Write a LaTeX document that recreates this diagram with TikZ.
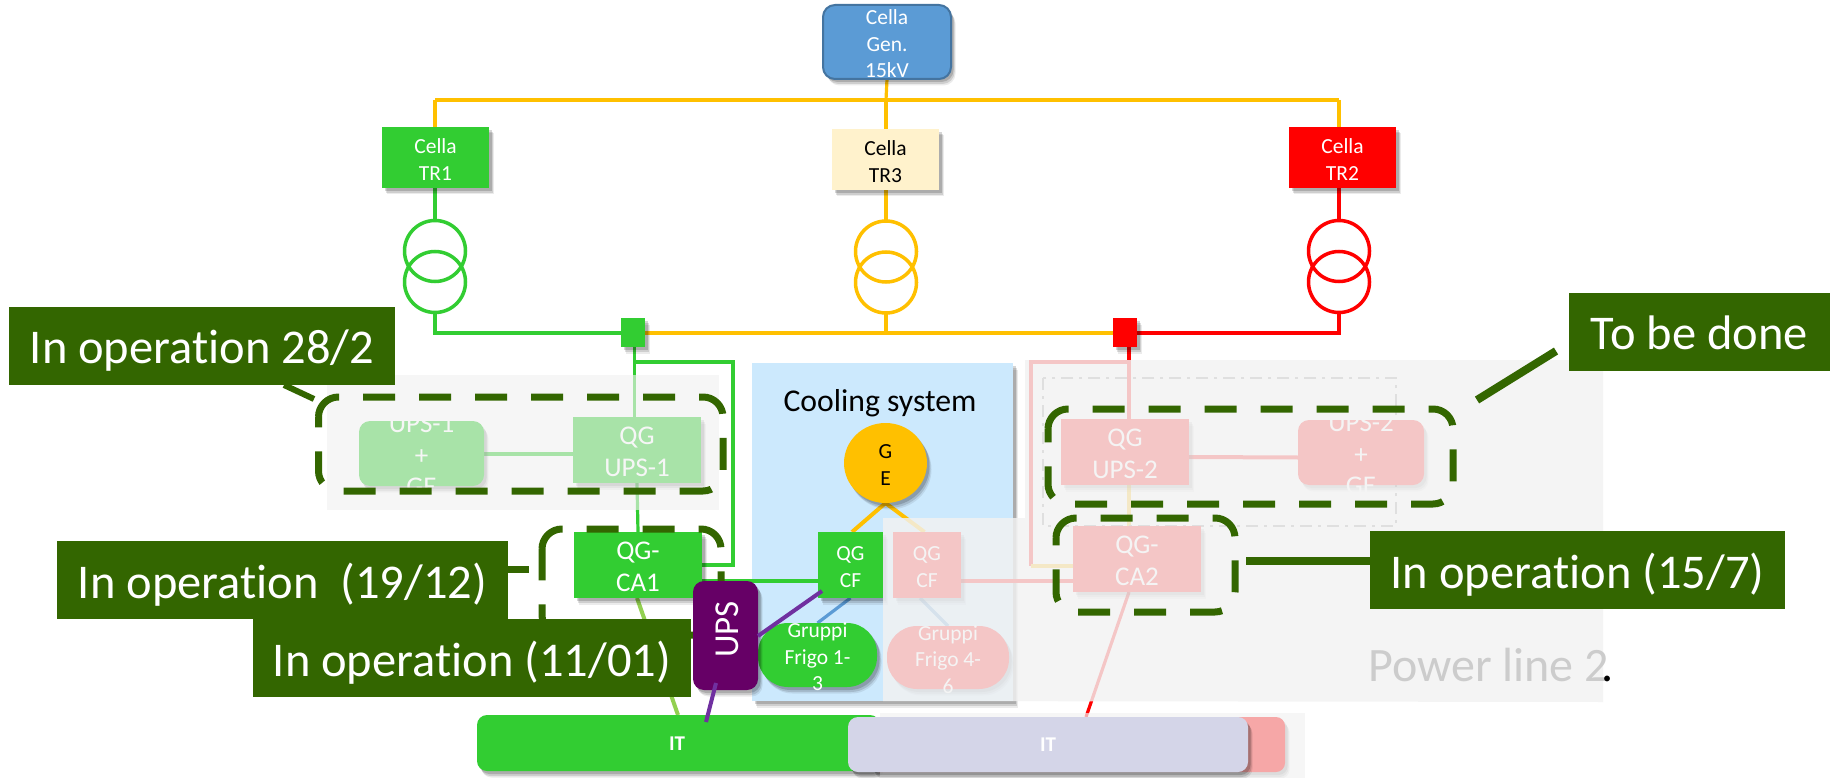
\documentclass[tikz,border=0pt]{standalone}
\usepackage{fontspec}
\setmainfont{Carlito}[Ligatures=NoCommon]
\usetikzlibrary{shadows,calc,shapes.geometric}
\definecolor{cgreen}{HTML}{32CD32}
\definecolor{corange}{HTML}{FFC000}
\definecolor{cred}{HTML}{FF0000}
\definecolor{cblue}{HTML}{5B9BD5}
\definecolor{dgreen}{HTML}{336600}
\definecolor{cpurple}{HTML}{660066}
\definecolor{lpurple}{HTML}{7030A0}
\definecolor{veilc}{HTML}{F2F2F2}
\definecolor{coolc}{HTML}{CCE9FD}
\definecolor{limec}{HTML}{92D050}
\definecolor{lavc}{HTML}{D4D5E8}
\definecolor{ddc}{HTML}{8E8E8E}
\definecolor{creamc}{HTML}{FFF2CC}
\pgfdeclarelayer{panel}\pgfdeclarelayer{conn}\pgfdeclarelayer{veil}\pgfdeclarelayer{top}
\pgfsetlayers{panel,conn,main,veil,top}
\tikzset{
  soft/.style={
    drop shadow={shadow xshift=4.5pt,shadow yshift=-6.5pt,fill=black,opacity=.08},
    drop shadow={shadow xshift=3.5pt,shadow yshift=-5pt,fill=black,opacity=.12},
    drop shadow={shadow xshift=2.5pt,shadow yshift=-3pt,fill=black,opacity=.16}},
  solidbox/.style={rectangle,inner sep=0pt,outer sep=0pt,soft},
  roundbox/.style={rectangle,rounded corners=#1,inner sep=0pt,outer sep=0pt,soft},
  t21/.style={font=\fontsize{21.5}{26.5}\selectfont,text=white,align=center,inner sep=0pt},
  t21k/.style={font=\fontsize{21.5}{26.5}\selectfont,text=black,align=center,inner sep=0pt},
  t27/.style={font=\fontsize{27}{31.5}\selectfont,text=white,align=center,inner sep=0pt},
  tit/.style={font=\fontsize{21}{25}\bfseries\selectfont,text=white,align=center,inner sep=0pt},
  tups/.style={font=\fontsize{35}{41}\selectfont,text=white,rotate=90,inner sep=0pt},
  callout/.style={rectangle,fill=dgreen,inner sep=0pt,outer sep=0pt},
  calltext/.style={text=white,font=\fontsize{48.5}{56}\selectfont,inner sep=0pt,yshift=-3pt},
  wire/.style={line width=3.2pt,line join=miter},
  tail/.style={draw=dgreen,line width=7pt},
  dashbx/.style={draw=dgreen,line width=7pt,dash pattern=on 32pt off 24pt,rounded corners=20pt},
  coil/.style={circle,draw=#1,line width=3.5pt,minimum size=61pt,inner sep=0pt,outer sep=0pt},
  veilfill/.style={fill=veilc,fill opacity=#1,draw=none},
}
% name, x1, y1, x2, y2, node style, label style, text
\newcommand\bx[8]{%
  \pgfmathsetmacro\bxcx{(#2+#4)/2}\pgfmathsetmacro\bxcy{(#3+#5)/2}%
  \pgfmathsetmacro\bxw{#4-#2}\pgfmathsetmacro\bxh{#5-#3}%
  \node[#6,minimum width=\bxw pt,minimum height=\bxh pt,
        label={[yshift=-2pt,#7]center:{#8}}] (#1) at (\bxcx,\bxcy) {};}
% x1, y1, x2, y2 : dashed outline, starting on the left side below the corner
\newcommand\dashframe[4]{%
  \draw[dashbx] (#1,#2+20) -- (#1,#2) -- (#3,#2) -- (#3,#4) -- (#1,#4) -- (#1,#2+20);}
\begin{document}
\begin{tikzpicture}[x=1pt,y=-1pt]
\useasboundingbox (0,0) rectangle (1841,778);
\begin{pgfonlayer}{panel}
\fill[white] (0,0) rectangle (1841,778);
\end{pgfonlayer}

% ---------- nodes (main layer)
\bx{gen}{823}{5}{951}{79}{roundbox=12pt,fill=cblue,draw=cblue!75!black,line width=2pt}{t21}{Cella\\Gen.\\15kV}
\bx{cell1}{382}{127}{489}{188}{solidbox,fill=cgreen}{t21}{Cella\\TR1}
\bx{cell3}{832}{129}{939}{190}{solidbox,fill=creamc}{t21k}{Cella\\TR3}
\bx{cell2}{1289}{127}{1396}{188}{solidbox,fill=cred}{t21}{Cella\\TR2}
\node[coil=cgreen] (tr1a) at (435,251) {};
\node[coil=cgreen] (tr1b) at (435,282) {};
\node[coil=corange] (tr3a) at (886,251.5) {};
\node[coil=corange] (tr3b) at (886,282.5) {};
\node[coil=cred] (tr2a) at (1339,251) {};
\node[coil=cred] (tr2b) at (1339,282) {};
\bx{sqG}{621}{318}{645}{347}{solidbox,fill=cgreen}{t21}{}
\bx{sqR}{1113}{318}{1137}{347}{solidbox,fill=cred}{t21}{}

\bx{ups1}{359}{421}{484}{486}{roundbox=11pt,fill=cgreen}{t27}{UPS-1\\+\\GE}
\bx{qgups1}{573}{417}{701}{483}{solidbox,fill=cgreen}{t27}{QG\\UPS-1}
\bx{qgca1}{574}{532}{702}{598}{solidbox,fill=cgreen}{t27}{QG-\\CA1}
\bx{qgups2}{1061}{419}{1189}{485}{solidbox,fill=cred}{t27}{QG\\UPS-2}
\bx{ups2}{1298}{420}{1424}{485}{roundbox=11pt,fill=cred}{t27}{UPS-2\\+\\GE}
\bx{qgca2}{1073}{526}{1201}{592}{solidbox,fill=cred}{t27}{QG-\\CA2}

\node[ellipse,fill=corange,soft,minimum width=83pt,minimum height=80pt,inner sep=0pt,outer sep=0pt,label={[yshift=-2pt,t21k]center:{G\\E}}] (ge) at (885.5,463) {};
\bx{qgcf}{818}{532}{883}{598}{solidbox,fill=cgreen}{t21}{QG\\CF}
\bx{qgcfp}{893}{532}{961}{598}{solidbox,fill=cred}{t21}{QG\\CF}
\bx{fr13}{758}{623}{877}{687}{roundbox=30pt,fill=cgreen}{t21}{Gruppi\\Frigo 1-\\3}
\bx{fr46}{887}{626}{1009}{689}{roundbox=30pt,fill=cred}{t21}{Gruppi\\Frigo 4-\\6}
\bx{itg}{477}{715}{880}{771}{roundbox=10pt,fill=cgreen}{tit}{}
\node[tit] (itgt) at (677,744) {IT};
\bx{itr}{870}{717}{1285}{772}{roundbox=9pt,fill=cred}{tit}{}

% ---------- panel layer
\begin{pgfonlayer}{panel}
  \bx{cool}{752}{363}{1013}{701}{solidbox,fill=coolc}{t21}{}
\end{pgfonlayer}
\node[font=\fontsize{31.7}{38}\selectfont,text=black,inner sep=0pt] (cooltxt) at (880,403) {Cooling system};

% ---------- connectors (under the nodes)
\begin{pgfonlayer}{conn}
  \coordinate (topL) at (435,100);
  \coordinate (topC) at (886,100);
  \coordinate (topR) at (1339,100);
  \coordinate (botL) at (435,333);
  \coordinate (botR) at (1339,333);
  \coordinate (botC) at (886,333);
  \coordinate (brG) at (634.5,362);
  \coordinate (brGr) at (733,362);
  \coordinate (brGb) at (733,565);
  \coordinate (brR) at (1129,362);
  \coordinate (brRl) at (1031,362);
  \coordinate (brRb) at (1031,566);
  \coordinate (sqRb) at (1129,347);
  \coordinate (qgu2t) at (1129,419);
  \coordinate (qgu2b) at (1129,485);
  \coordinate (qca2t) at (1129,526);
  \coordinate (qca2h) at (1073,566);
  \coordinate (yl) at (0,581);
  \coordinate (ca2b) at (1129,592);
  \coordinate (ca2i) at (1086,717);
  \coordinate (ca1i) at (678,715);
  \coordinate (ca1b) at (637,598);
  \coordinate (gepk) at (924.5,532);
  \coordinate (gegr) at (852,532);
  \coordinate (cfpb) at (920,598);
  \draw[wire,corange] (gen.south) -- (topC);
  \draw[wire,corange,line width=3.6pt] (topL) -- (topR);
  \draw[wire,corange] (topL) -- (topL |- cell1.north);
  \draw[wire,corange] (topC) -- (topC |- cell3.north);
  \draw[wire,corange] (topR) -- (topR |- cell2.north);
  \draw[wire,cgreen] (tr1a.north |- cell1.south) -- (tr1a.north);
  \draw[wire,corange] (tr3a.north |- cell3.south) -- (tr3a.north);
  \draw[wire,cred] (tr2a.north |- cell2.south) -- (tr2a.north);
  \draw[wire,cgreen] (tr1b.south) -- (botL) -- (botL -| sqG.west);
  \draw[wire,cred] (tr2b.south) -- (botR) -- (botR -| sqR.east);
  \draw[wire,corange,line width=3.6pt] (botL -| sqG.east) -- (botL -| sqR.west);
  \draw[wire,corange] (tr3b.south) -- (botC);
  \draw[wire,cgreen] (brG |- sqG.south) -- (brG |- qgups1.north);
  \draw[wire,cgreen] (brG) -- (brGr) -- (brGb) -- (qgca1.east);
  \draw[wire,cgreen] (qgups1.south) -- (qgca1.north);
  \draw[wire,cgreen,line width=4pt] (ups1.east) -- (ups1.east -| qgups1.west);
  \draw[wire,cgreen] (qgcf.west |- yl) -- (qgca1.east |- yl);
  \draw[wire,cblue] (qgcf.south) -- (fr13.north);
  \draw[wire,cblue] (cfpb) -- (fr46.north);
  \draw[wire,corange,line width=4pt] (ge.south) -- (gegr);
  \draw[wire,corange,line width=4pt] (ge.south) -- (gepk);
  \draw[wire,cred] (sqRb) -- (qgu2t);
  \draw[wire,cred] (brR) -- (brRl) -- (brRb);
  \draw[wire,corange] (brRb) -- (qca2h);
  \draw[wire,corange] (qgu2b) -- (qca2t);
  \draw[wire,cred,line width=4pt] ([yshift=-5pt]qgups2.east) -- ([yshift=-5pt]ups2.west);
  \draw[wire,cred,line width=4pt] (qgcfp.east |- yl) -- (qgca2.west |- yl);
  \draw[wire,cred] (ca2b) -- (ca2i);
  \draw[wire,limec,line width=4pt] (ca1b) -- (ca1i);
  \draw[ddc,line width=2.5pt,dash pattern=on 12pt off 6pt on 3pt off 6pt]
     (1043,378) rectangle (1396,526);
\end{pgfonlayer}

% ---------- veils
\begin{pgfonlayer}{veil}
  \fill[veilfill=.62] (327,375) rectangle (719,510);
  \fill[veilfill=.82] (883,518) -- (1025,518) -- (1025,360) -- (1603,360) -- (1603,702) -- (883,701) -- cycle;
  \fill[veilfill=.69] (880,713) rectangle (1305,778);
\end{pgfonlayer}

% ---------- top layer
\begin{pgfonlayer}{top}
  \node[soft,fill=lavc,rectangle,rounded corners=10pt,minimum width=400pt,minimum height=55pt,inner sep=0pt,outer sep=0pt,tit] (itl) at (1048,744.5) {IT};

  \dashframe{318.5}{397}{723}{491}
  \begin{scope}
    \clip (500,500) rectangle (800,692);
    \dashframe{542}{529}{721}{635}
  \end{scope}
  \dashframe{1048}{409}{1453}{504}
  \dashframe{1056}{518}{1235}{612}

  \bx{upsbox}{693}{581}{758}{690}{roundbox=11pt,fill=cpurple}{tups,xshift=8pt,yshift=-2pt}{UPS}
  \coordinate (upsp) at (716,683);
  \coordinate (itp) at (706,722);
  \coordinate (upsq) at (758,636);
  \coordinate (cfq) at (822,591);
  \draw[line width=4pt,lpurple] (upsp) -- (itp);
  \draw[line width=4pt,lpurple] (upsq) -- (cfq);

  \bx{c282}{9}{307}{395}{385}{callout}{calltext}{In operation 28/2}
  \bx{c1912}{57}{541}{508}{619}{callout}{calltext}{In operation\ \ (19/12)}
  \bx{c1101}{253}{619}{691}{697}{callout}{calltext}{In operation (11/01)}
  \bx{c157}{1370}{531}{1785}{609}{callout}{calltext}{In operation (15/7)}
  \bx{ctbd}{1569}{293}{1830}{371}{callout}{calltext,yshift=4pt}{To be done}

  \coordinate (t1a) at (284,385);
  \coordinate (t1b) at (314,399);
  \coordinate (t2b) at (529,569);
  \coordinate (t3a) at (1246,561);
  \coordinate (t4a) at (1556,351);
  \coordinate (t4b) at (1477,400);
  \draw[tail,line width=6pt] (t1a) -- (t1b);
  \draw[tail] (c1912.east |- t2b) -- (t2b);
  \draw[tail,line width=8pt] (t3a) -- (t3a -| c157.west);
  \draw[tail,line width=8pt] (t4a) -- (t4b);

  \node[font=\fontsize{48}{56}\selectfont,inner sep=0pt,anchor=west] (pl2) at (1368,665) {\textcolor[HTML]{CCCCCC}{Power line 2}\kern-7pt\textcolor{black}{.}};
\end{pgfonlayer}
\end{tikzpicture}
\end{document}
